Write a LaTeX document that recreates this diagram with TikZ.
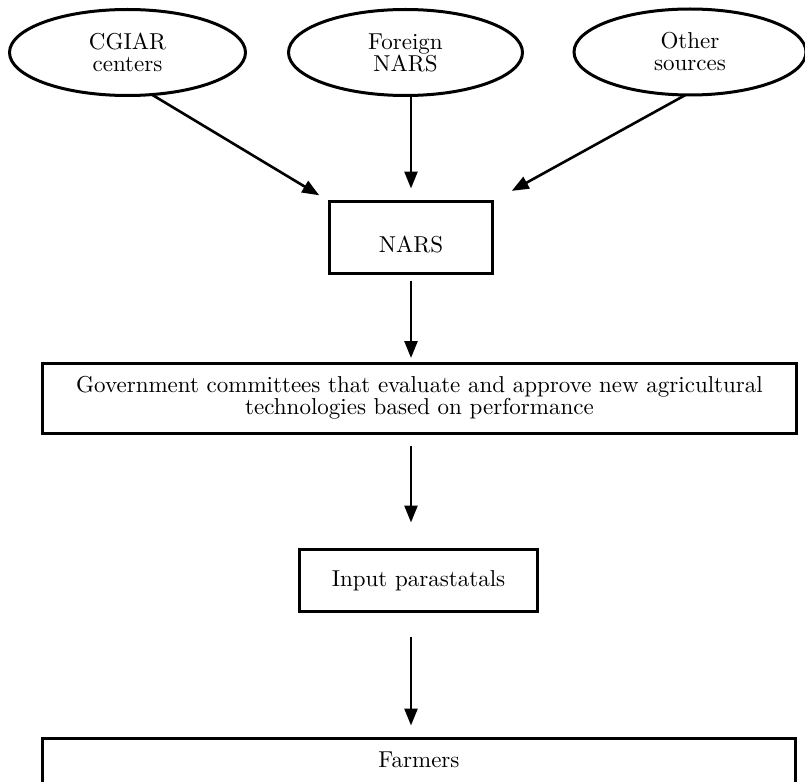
\documentclass[tikz,border=0pt]{standalone}
\usepackage{fontspec}
\setmainfont{lmroman10-regular.otf}
\usetikzlibrary{shapes.geometric,arrows.meta}
\begin{document}
\begin{tikzpicture}[x=1pt,y=-1pt,
  every node/.style={font=\fontsize{23}{22}\selectfont},
  ell/.style={draw, ellipse, line width=3pt, inner sep=0pt, outer sep=0pt, align=center},
  box/.style={draw, rectangle, line width=3pt, inner sep=0pt, outer sep=0pt},
  arr/.style={line width=2.6pt, -{Triangle[length=17pt,width=13pt]}}]
\useasboundingbox (0,0) rectangle (805,781);
\clip (0,0) rectangle (805,781);
% sources
\node[ell, minimum width=236pt, minimum height=86pt] (cgiar) at (127.5,52.5) {CGIAR\\centers};
\node[ell, minimum width=234pt, minimum height=86pt] (foreign) at (405.5,52.5) {Foreign\\NARS};
\node[ell, minimum width=232pt, minimum height=86pt] (other) at (690,52) {Other\\sources};
% boxes
\node[box, minimum width=163pt, text height=50.5pt, text depth=21.5pt] (nars) at (411,237.5) {NARS};
\node[box, align=center, minimum width=754pt, minimum height=70pt] (gov) at (419.5,398)
  {Government committees that evaluate and approve new agricultural\\technologies based on performance};
\node[box, minimum width=238pt, minimum height=62pt] (input) at (418.5,580.5) {Input parastatals};
\node[box, minimum width=753pt, text height=28.5pt, text depth=80pt, anchor=north] (farmers) at (419,738.5) {Farmers};
% connectors
\draw[arr, shorten >=12pt] (cgiar.-60) -- (nars.north west);
\draw[arr, shorten >=13pt] (foreign.south -| nars.north) -- (nars.north);
\draw[arr, shorten >=22pt] (other.-96) -- (nars.north east);
\draw[arr, shorten <=7pt, shorten >=5pt] (nars.south) -- (nars.south |- gov.north);
\draw[arr, shorten <=13pt, shorten >=27pt] (nars.south |- gov.south) -- (nars.south |- input.north);
\draw[arr, shorten <=25pt, shorten >=13pt] (nars.south |- input.south) -- (nars.south |- farmers.north);
\end{tikzpicture}
\end{document}
